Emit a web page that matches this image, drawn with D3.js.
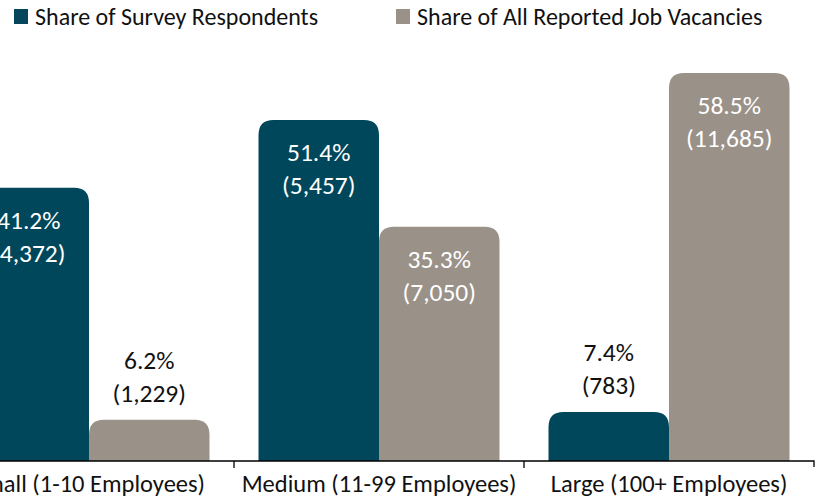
<!DOCTYPE html>
<html>
<head>
<meta charset="utf-8">
<script src="https://cdn.jsdelivr.net/npm/d3@7"></script>
<style>
  body { margin: 0; background: #fff; }
  svg { display: block; font-family: Carlito, "Noto Sans", sans-serif; }
</style>
</head>
<body>
<div class="chart"></div>
<script>
// data
const categories = ["Small (1-10 Employees)", "Medium (11-99 Employees)", "Large (100+ Employees)"]
const seriesNames = ["Share of Survey Respondents", "Share of All Reported Job Vacancies"]
const respondentsPct = [41.2, 51.4, 7.4]
const respondentsN = [4372, 5457, 783]
const vacanciesPct = [6.2, 35.3, 58.5]
const vacanciesN = [1229, 7050, 11685]

const width = 826
const height = 502
const colors = ["#05465c", "#9a9188"]

const rows = []
categories.forEach((c, i) => {
    rows.push({ cat: c, s: 0, pct: respondentsPct[i], n: respondentsN[i] })
    rows.push({ cat: c, s: 1, pct: vacanciesPct[i], n: vacanciesN[i] })
})

let svg = d3.select(".chart")
    .append("svg")
    .attr("width", width)
    .attr("height", height)

// soft edges like the original picture
svg.append("defs").append("filter")
    .attr("id", "soft")
    .append("feGaussianBlur")
    .attr("stdDeviation", 0.6)

// scales
const x0 = d3.scaleBand()
    .domain(categories)
    .range([-56, 814])

const x1 = d3.scaleBand()
    .domain([0, 1])
    .range([24.5, x0.bandwidth() - 24.5])

const y = d3.scaleLinear()
    .domain([0, 60])
    .range([461, 63])

// bars with rounded tops
const r = 15
function barPath(d) {
    const xl = x0(d.cat) + x1(d.s)
    const w = x1.bandwidth()
    const top = y(d.pct)
    const bot = y(0)
    const rr = Math.min(r, (bot - top))
    return `M${xl},${bot} L${xl},${top + rr} Q${xl},${top} ${xl + rr},${top} L${xl + w - rr},${top} Q${xl + w},${top} ${xl + w},${top + rr} L${xl + w},${bot} Z`
}

svg.append("g")
    .attr("filter", "url(#soft)")
    .selectAll("path")
    .data(rows)
    .join("path")
    .attr("d", barPath)
    .attr("fill", d => colors[d.s])

// labels
const fmt = d3.format(",")
const lbl = svg.append("g")
    .attr("font-size", 25.5)
    .attr("text-anchor", "middle")

rows.forEach(d => {
    const cx = x0(d.cat) + x1(d.s) + x1.bandwidth() / 2
    const top = y(d.pct)
    const inside = d.pct > 20
    const y1 = inside ? top + 41 : top - 51
    const y2 = inside ? top + 74 : top - 18
    const fill = inside ? "#ffffff" : "#111111"
    lbl.append("text").attr("x", cx).attr("y", y1).attr("fill", fill).text(d.pct.toFixed(1) + "%")
    lbl.append("text").attr("x", cx).attr("y", y2).attr("fill", fill).text("(" + fmt(d.n) + ")")
})

// x axis
const axis = svg.append("g")
    .attr("transform", `translate(0,${y(0)})`)
    .call(d3.axisBottom(x0).tickSize(0).tickPadding(22))

axis.select(".domain").attr("d", "M-56,0H814V6").attr("stroke", "#000").attr("stroke-width", 1.3)
axis.selectAll(".tick text")
    .attr("font-family", "Carlito, 'Noto Sans', sans-serif")
    .attr("font-size", 24.5)
    .attr("fill", "#111")
    .attr("dy", "0.35em")

// separators between categories
axis.selectAll(".sep")
    .data(categories.slice(1))
    .join("line")
    .attr("class", "sep")
    .attr("x1", d => x0(d)).attr("x2", d => x0(d))
    .attr("y1", 0).attr("y2", 7)
    .attr("stroke", "#000")
    .attr("stroke-width", 1.3)

// legend
const legendX = [14, 396]
const leg = svg.append("g")
seriesNames.forEach((s, i) => {
    leg.append("rect")
        .attr("x", legendX[i]).attr("y", 9)
        .attr("width", 14).attr("height", 15)
        .attr("fill", colors[i])
    leg.append("text")
        .attr("x", legendX[i] + 21).attr("y", 25)
        .attr("font-size", 24)
        .attr("fill", "#111")
        .text(s)
})
</script>
</body>
</html>
